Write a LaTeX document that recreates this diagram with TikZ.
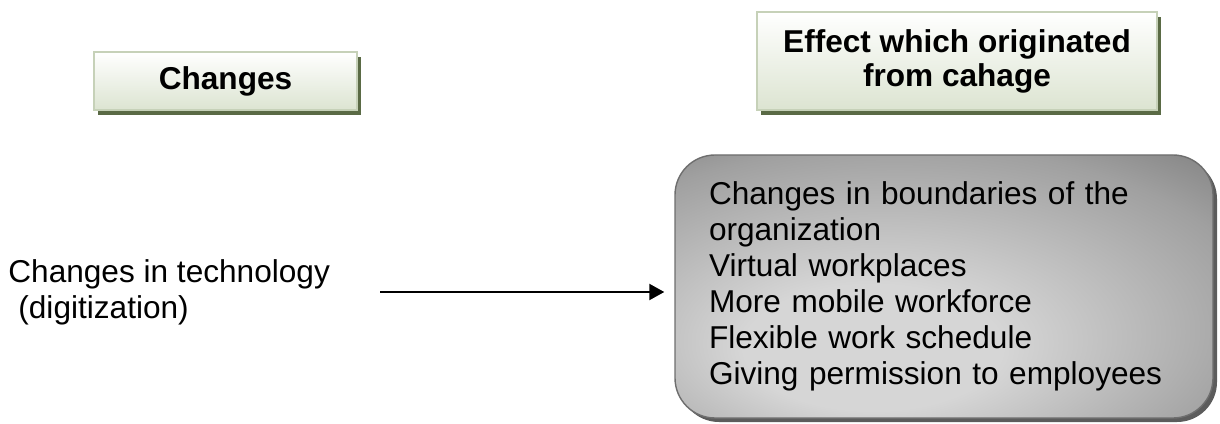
\documentclass[tikz,border=0pt]{standalone}
\usepackage{fontspec}
\setmainfont{Liberation Sans}
\usetikzlibrary{arrows.meta,shadows}

\definecolor{headborder}{HTML}{C6D1B8}
\definecolor{headbottom}{HTML}{DCE4D1}
\definecolor{headshadow}{HTML}{5A6A45}
\definecolor{boxlight}{HTML}{D6D6D6}
\definecolor{boxmid}{HTML}{A0A0A0}
\definecolor{boxdark}{HTML}{606060}
\definecolor{boxline}{HTML}{6E6E6E}
\definecolor{boxshadow}{HTML}{5C5C5C}

\pgfdeclareradialshading{boxglow}{\pgfpoint{-8bp}{-14bp}}{color(0bp)=(boxlight); color(12bp)=(boxlight); color(34bp)=(boxmid); color(52bp)=(boxdark); color(70bp)=(boxdark)}

\begin{document}
\begin{tikzpicture}[x=0.5pt, y=0.5pt,
    header/.style={draw=headborder, line width=1pt, top color=white, bottom color=headbottom,
        font=\fontsize{15.8}{17}\selectfont\bfseries, align=center, inner sep=0pt,
        drop shadow={shadow xshift=1.75pt, shadow yshift=-2.75pt, fill=headshadow, opacity=1}},
    plain/.style={font=\fontsize{15.8}{18}\selectfont, align=left, inner sep=0pt},
    effectbox/.style={draw=boxline, line width=0.7pt, rounded corners=20pt, shade, shading=boxglow,
        font=\fontsize{15.8}{18}\selectfont, align=left, text width=235pt, inner xsep=17pt, inner ysep=0pt,
        drop shadow={shadow xshift=2pt, shadow yshift=-2pt, fill=boxshadow, opacity=1}},
    arrow/.style={-{Triangle[length=7.5pt, width=8pt]}, line width=1.1pt}]
    \useasboundingbox (0,0) rectangle (1220,423);

    % Headers
    \node[header, minimum width=131.5pt, minimum height=29pt] (chg) at (225.5,342) {Changes};
    \node[header, minimum width=200pt, minimum height=49pt] (eff) at (957,362) {Effect which originated\\from cahage};

    % Left text
    \node[plain, anchor=west] (tech) at (8,131) {Changes in technology\\\hspace*{5pt}(digitization)};

    % Effects box
    \node[effectbox, minimum height=131.5pt] (list) at (944,136.5)
        {Changes in boundaries of the\\organization\\Virtual workplaces\\More mobile workforce\\Flexible work schedule\\Giving permission to employees};

    % Arrow
    \draw[arrow, shorten <=25pt, shorten >=5pt] (tech.east) -- (tech.east -| list.west);
\end{tikzpicture}
\end{document}
